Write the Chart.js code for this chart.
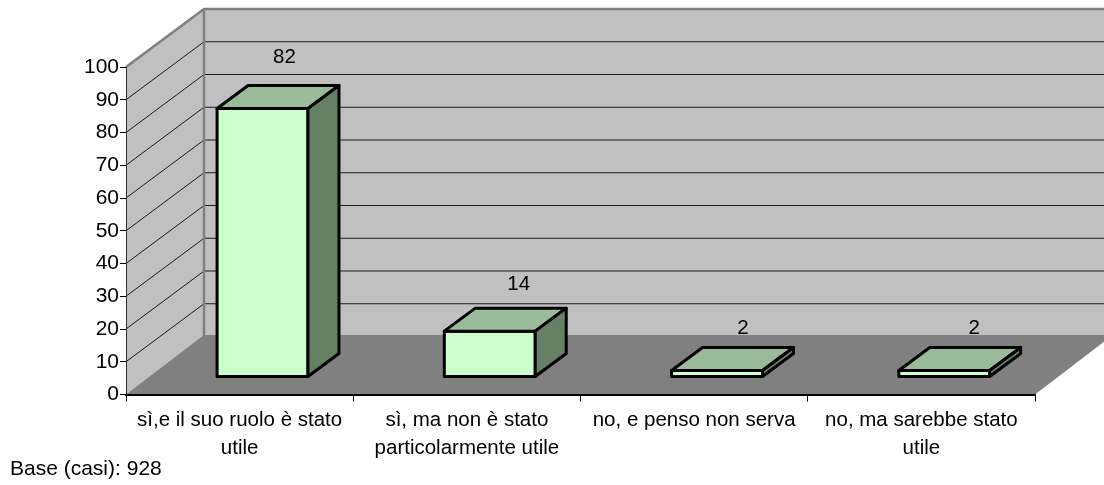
<!DOCTYPE html>
<html>
<head>
<meta charset="utf-8">
<title>Base (casi): 928</title>
<style>
  html, body { margin: 0; background: #fff; }
  canvas { display: block; }
</style>
<script src="https://cdn.jsdelivr.net/npm/chart.js@4/dist/chart.umd.min.js"></script>
</head>
<body>
<canvas id="barChart" width="1104" height="485"></canvas>
<script>
const categories = [
  ["sì,e il suo ruolo è stato", "utile"],
  ["sì, ma non è stato", "particolarmente utile"],
  "no, e penso non serva",
  ["no, ma sarebbe stato", "utile"],
];
const percentuali = [82, 14, 2, 2];
const yMin = 0;
const yMax = 100;
const yStep = 10;
const baseNote = "Base (casi): 928";

const FONT = "'Liberation Sans', Arial, sans-serif";
const FONT_SIZE = 20.5;

// 3D look: depth of the room, and how far the bars sit inside it
const roomDx = 78;
const roomDy = -58;
const floorDy = -59.5;
const barShiftX = 22.9;
const barShiftY = -17.5;
const barDx = 31;
const barDy = -23;
// labels do not sit at a fixed distance in the original
const labelDx = [22, 29, 26, 30];
const labelDy = [-69, -64.6, -60, -60];

const room3d = {
  id: "room3d",
  beforeDraw(chart) {
    const { ctx, chartArea: a, scales } = chart;
    const y0 = scales.y.getPixelForValue(yMin);
    const y100 = scales.y.getPixelForValue(yMax);
    const backX = a.left + roomDx;
    ctx.save();

    // left and back walls
    ctx.fillStyle = "#c0c0c0";
    ctx.beginPath();
    ctx.moveTo(a.left, y100);
    ctx.lineTo(backX, y100 + roomDy);
    ctx.lineTo(backX, y0 + roomDy);
    ctx.lineTo(a.left, y0);
    ctx.closePath();
    ctx.fill();
    ctx.fillRect(backX, y100 + roomDy, chart.width - backX, y0 - y100);

    // gridlines run along both walls
    ctx.strokeStyle = "#1a1a1a";
    ctx.lineWidth = 1;
    scales.y.ticks.forEach((t) => {
      if (t.value === yMin || t.value === yMax) return;
      const py = scales.y.getPixelForValue(t.value);
      ctx.beginPath();
      ctx.moveTo(a.left, py);
      ctx.lineTo(backX, py + roomDy);
      ctx.lineTo(chart.width, py + roomDy);
      ctx.stroke();
    });

    // wall edges
    ctx.strokeStyle = "#808080";
    ctx.lineWidth = 2.5;
    ctx.beginPath();
    ctx.moveTo(a.left, y100);
    ctx.lineTo(backX, y100 + roomDy);
    ctx.lineTo(chart.width, y100 + roomDy);
    ctx.moveTo(backX, y100 + roomDy);
    ctx.lineTo(backX, y0 + roomDy);
    ctx.stroke();

    // floor
    ctx.fillStyle = "#808080";
    ctx.beginPath();
    ctx.moveTo(a.left, y0);
    ctx.lineTo(backX, y0 + floorDy);
    ctx.lineTo(a.right + roomDx, y0 + floorDy);
    ctx.lineTo(a.right, y0);
    ctx.closePath();
    ctx.fill();
    ctx.restore();
  },
  beforeDatasetsDraw(chart) {
    chart.ctx.save();
    chart.ctx.translate(barShiftX, barShiftY);
  },
  afterDatasetsDraw(chart) {
    const { ctx } = chart;
    const bars = chart.getDatasetMeta(0).data;
    ctx.lineWidth = 3;
    ctx.lineJoin = "round";
    ctx.strokeStyle = "#000";
    bars.forEach((bar) => {
      const l = bar.x - bar.width / 2;
      const r = bar.x + bar.width / 2;
      const t = bar.y;
      const b = bar.base;

      // the outline sits on the edge of the bar, so a bar of 2 keeps its fill
      ctx.strokeRect(l, t, r - l, b - t);

      ctx.fillStyle = "#99bb99";
      ctx.beginPath();
      ctx.moveTo(l, t);
      ctx.lineTo(l + barDx, t + barDy);
      ctx.lineTo(r + barDx, t + barDy);
      ctx.lineTo(r, t);
      ctx.closePath();
      ctx.fill();
      ctx.stroke();

      ctx.fillStyle = "#668066";
      ctx.beginPath();
      ctx.moveTo(r, t);
      ctx.lineTo(r + barDx, t + barDy);
      ctx.lineTo(r + barDx, b + barDy);
      ctx.lineTo(r, b);
      ctx.closePath();
      ctx.fill();
      ctx.stroke();
    });
    ctx.restore();

    // value labels and the note under the chart
    ctx.save();
    ctx.fillStyle = "#000";
    ctx.font = FONT_SIZE + "px " + FONT;
    ctx.textAlign = "center";
    ctx.textBaseline = "middle";
    bars.forEach((bar, i) => {
      ctx.fillText(percentuali[i], bar.x + barShiftX + labelDx[i], bar.y + labelDy[i]);
    });
    ctx.textAlign = "left";
    ctx.font = "21px " + FONT;
    ctx.fillText(baseNote, 10, 469);
    ctx.restore();
  },
};

const barChart = new Chart(document.getElementById("barChart").getContext("2d"), {
  type: "bar",
  data: {
    labels: categories,
    datasets: [
      {
        data: percentuali,
        backgroundColor: "#ccffcc",
        borderWidth: 0,
        categoryPercentage: 1,
        barPercentage: 0.4,
        clip: false,
      },
    ],
  },
  options: {
    responsive: false,
    animation: false,
    layout: { padding: { top: 67, right: 69, left: 0, bottom: 0 } },
    plugins: {
      legend: { display: false },
      title: { display: false },
      tooltip: { enabled: false },
    },
    scales: {
      x: {
        afterFit(scale) {
          scale.height = 90.5;
        },
        grid: { drawOnChartArea: false, tickLength: 7, tickColor: "#000", tickWidth: 1 },
        border: { color: "#000", width: 2 },
        ticks: {
          color: "#000",
          maxRotation: 0,
          autoSkip: false,
          padding: 5,
          font: { family: FONT, size: FONT_SIZE, lineHeight: 1.37 },
        },
      },
      y: {
        min: yMin,
        max: yMax,
        afterFit(scale) {
          scale.width = 126;
        },
        grid: { drawOnChartArea: false, tickLength: 6, tickColor: "#000", tickWidth: 1 },
        border: { color: "#333", width: 1 },
        ticks: {
          stepSize: yStep,
          color: "#000",
          padding: 1,
          font: { family: FONT, size: 21 },
        },
      },
    },
  },
  plugins: [room3d],
});
</script>
</body>
</html>
